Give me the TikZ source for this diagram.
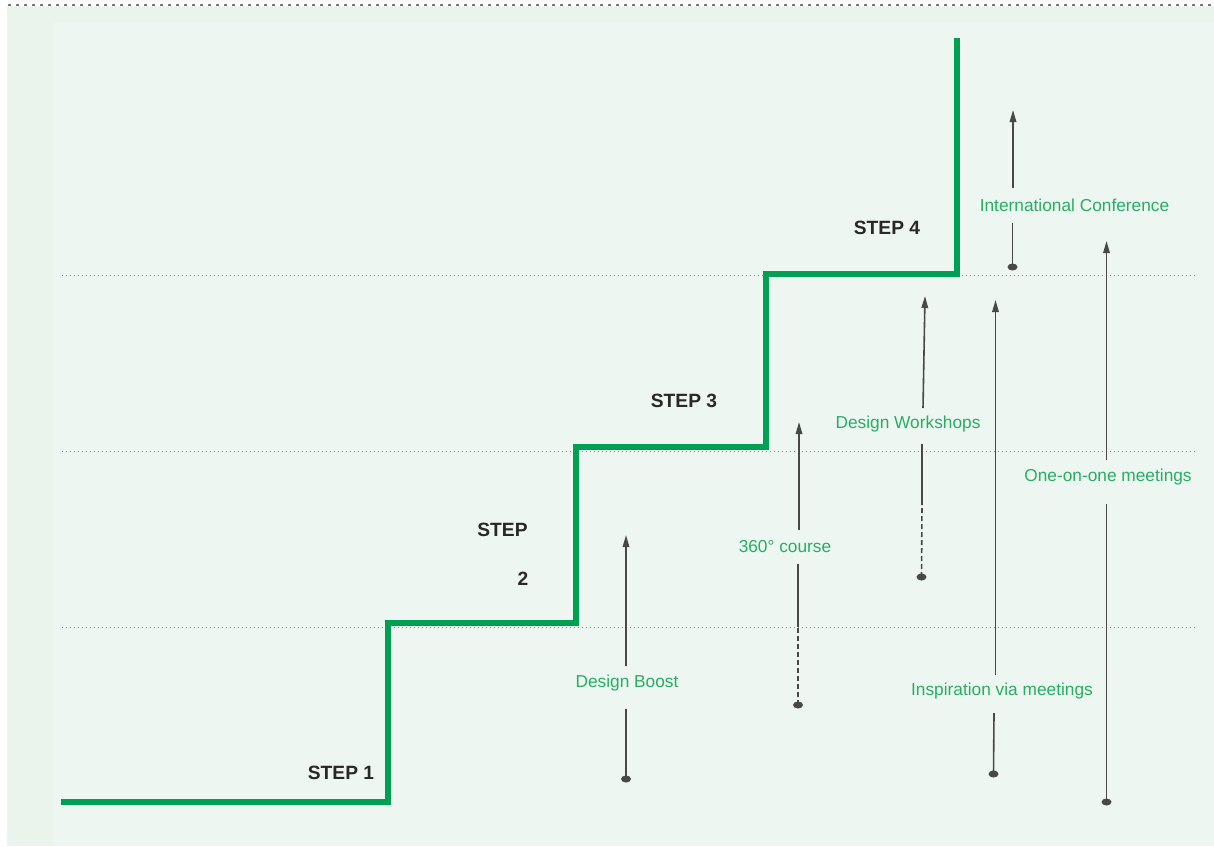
\documentclass[tikz,border=0pt]{standalone}
\usepackage{fontspec}
\setmainfont{Liberation Sans}
\usetikzlibrary{arrows.meta,shapes.geometric}
\definecolor{bgouter}{RGB}{234,244,237}
\definecolor{bginner}{RGB}{237,246,241}
\definecolor{stairgreen}{RGB}{0,160,82}
\definecolor{txtgreen}{RGB}{40,174,100}
\definecolor{steptxt}{RGB}{40,40,40}
\definecolor{conncol}{RGB}{72,72,72}
\definecolor{dotline}{RGB}{150,150,150}
\tikzset{
  stair/.style={draw=stairgreen,line width=6pt,line join=miter},
  levelline/.style={draw=dotline,line width=0.9pt,dash pattern=on 1pt off 3pt},
  topline/.style={draw=dotline!80!black,line width=1.2pt,dash pattern=on 2.5pt off 5.5pt},
  steplabel/.style={text=steptxt,font=\fontsize{19.2}{22}\selectfont\bfseries,inner sep=0pt},
  lbl/.style={text=txtgreen,font=\fontsize{17.3}{20}\selectfont,inner sep=0pt},
  conn/.style={draw=conncol,line width=1.6pt},
  connarrow/.style={conn,-{Triangle[length=12pt,width=6.5pt]}},
  conndash/.style={conn,dash pattern=on 5pt off 3pt},
  enddot/.style={ellipse,fill=conncol,draw=none,minimum width=10pt,minimum height=7pt,inner sep=0pt}
}
\begin{document}
\begin{tikzpicture}[x=1pt,y=-1pt]
\useasboundingbox (0,0) rectangle (1214,846);
\fill[white] (0,0) rectangle (1214,846);
\fill[bgouter] (7,6) rectangle (1214,846);
\fill[bginner] (54,22) rectangle (1214,846);
\draw[topline] (8,5) -- (1214,5);

% level lines
\draw[levelline] (62,275) -- (1198,275);
\draw[levelline] (62,451) -- (1198,451);
\draw[levelline] (62,627) -- (1198,627);

% stairs
\draw[stair] (61,802) -- (388,802) -- (388,622.5) -- (576,622.5) -- (576,447) -- (766,447) -- (766,273.5) -- (957,273.5) -- (957,38);

% step labels
\node[steplabel] (s1) at (341,773) {STEP 1};
\node[steplabel] (s2a) at (502.5,529.5) {STEP};
\node[steplabel] (s2b) at (523,578.5) {2};
\node[steplabel] (s3) at (684,401) {STEP 3};
\node[steplabel] (s4) at (887,228) {STEP 4};

% Design Boost
\node[enddot] (dbdot) at (626,779) {};
\node[lbl] (db) at (627,683) {Design Boost};
\coordinate (dblo) at (626,709);
\coordinate (dbhi) at (626,666);
\coordinate (dbtop) at (626,535);
\draw[conn] (dbdot.center) -- (dblo);
\draw[connarrow] (dbhi) -- (dbtop);

% 360 course
\node[enddot] (ccdot) at (798,705) {};
\node[lbl] (cc) at (785,547) {360° course};
\coordinate (ccmid) at (798,627);
\coordinate (cclo) at (798,564);
\coordinate (cchi) at (799,530);
\coordinate (cctop) at (799,422);
\draw[conndash] (ccdot.center) -- (ccmid);
\draw[conn] (ccmid) -- (cclo);
\draw[connarrow] (cchi) -- (cctop);

% Design Workshops
\node[enddot] (dwdot) at (921.5,577) {};
\node[lbl] (dw) at (908,424) {Design Workshops};
\coordinate (dwmid) at (922,505);
\coordinate (dwlo) at (922,444);
\coordinate (dwhi) at (923,408);
\coordinate (dwtop) at (925,296);
\draw[conndash] (dwdot.center) -- (dwmid);
\draw[conn] (dwmid) -- (dwlo);
\draw[connarrow] (dwhi) -- (dwtop);

% Inspiration via meetings
\node[enddot] (ivdot) at (993.5,774) {};
\node[lbl] (iv) at (1002,691) {Inspiration via meetings};
\coordinate (ivlo) at (994,713);
\coordinate (ivhi) at (995.5,675);
\coordinate (ivtop) at (995.5,300);
\draw[conn] (ivdot.center) -- (ivlo);
\draw[connarrow] (ivhi) -- (ivtop);

% One-on-one meetings
\node[enddot] (oodot) at (1106.5,802) {};
\node[lbl] (oo) at (1108,477) {One-on-one meetings};
\coordinate (oolo) at (1106.5,504);
\coordinate (oohi) at (1106.5,460);
\coordinate (ootop) at (1106.5,241);
\draw[conn] (oodot.center) -- (oolo);
\draw[connarrow] (oohi) -- (ootop);

% International Conference
\node[enddot] (icdot) at (1012.5,267) {};
\node[lbl] (ic) at (1074.5,205) {International Conference};
\coordinate (iclo) at (1012.5,223);
\coordinate (ichi) at (1013,188);
\coordinate (ictop) at (1013,110);
\draw[conn] (icdot.center) -- (iclo);
\draw[connarrow] (ichi) -- (ictop);
\end{tikzpicture}
\end{document}
